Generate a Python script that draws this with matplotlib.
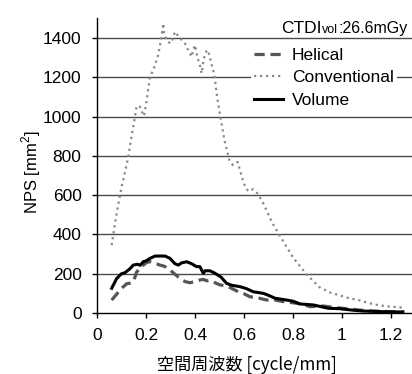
import matplotlib
matplotlib.use("Agg")
import matplotlib.pyplot as plt
from matplotlib.lines import Line2D

plt.rcParams['font.family'] = ['Liberation Sans', 'DejaVu Sans']
plt.rcParams['mathtext.fontset'] = 'custom'
plt.rcParams['mathtext.rm'] = 'Liberation Sans'

# ---- data ----
conv_x = [0.06, 0.067, 0.08, 0.10, 0.107, 0.128, 0.141, 0.155, 0.162, 0.176, 0.185, 0.192,
          0.20, 0.216, 0.23, 0.25, 0.261, 0.271, 0.273, 0.284, 0.298, 0.305, 0.318, 0.339,
          0.359, 0.366, 0.373, 0.38, 0.386, 0.393, 0.40, 0.41, 0.42, 0.427, 0.435, 0.445,
          0.452, 0.458, 0.479, 0.492, 0.506, 0.52, 0.54, 0.554, 0.564, 0.574, 0.595, 0.608,
          0.62, 0.635, 0.656, 0.676, 0.717, 0.758, 0.799, 0.853, 0.907, 0.95, 0.989, 1.03,
          1.07, 1.11, 1.152, 1.20, 1.254]
conv_y = [345, 404, 506, 641, 677, 796, 898, 1000, 1054, 1050, 1020, 1003,
          1060, 1203, 1237, 1314, 1390, 1475, 1424, 1390, 1373, 1380, 1432, 1399,
          1373, 1350, 1339, 1320, 1305, 1340, 1364, 1300, 1262, 1220, 1290, 1330,
          1339, 1314, 1212, 1085, 983, 881, 779, 754, 760, 769, 677, 633,
          620, 630, 608, 565, 455, 370, 285, 200, 132, 105, 90, 75,
          65, 50, 39, 32, 27]

hel_x = [0.06, 0.075, 0.087, 0.10, 0.121, 0.135, 0.148, 0.162, 0.182, 0.20, 0.215, 0.237,
         0.257, 0.275, 0.298, 0.311, 0.33, 0.359, 0.38, 0.40, 0.42, 0.434, 0.448, 0.458,
         0.48, 0.502, 0.53, 0.556, 0.577, 0.60, 0.624, 0.66, 0.692, 0.72, 0.76, 0.80,
         0.84, 0.869, 0.921, 0.97, 1.016, 1.07, 1.125, 1.19, 1.254]
hel_y = [66, 88, 107, 125, 149, 152, 158, 209, 236, 255, 262, 253,
         244, 238, 219, 205, 185, 160, 154, 160, 168, 171, 164, 166,
         155, 143, 138, 121, 108, 98, 83, 76, 66, 68, 58, 52,
         45, 32, 36, 28, 22, 15, 10, 7, 5]

vol_x = [0.06, 0.08, 0.10, 0.114, 0.135, 0.148, 0.165, 0.176, 0.189, 0.20, 0.216, 0.237,
         0.258, 0.278, 0.298, 0.318, 0.332, 0.345, 0.366, 0.386, 0.406, 0.42, 0.434, 0.441,
         0.461, 0.482, 0.506, 0.529, 0.55, 0.584, 0.61, 0.638, 0.679, 0.70, 0.727, 0.774,
         0.80, 0.829, 0.883, 0.944, 0.989, 1.04, 1.085, 1.16, 1.248]
vol_y = [126, 175, 200, 205, 226, 244, 248, 243, 261, 265, 278, 290,
         290, 290, 278, 251, 244, 255, 261, 251, 236, 236, 202, 215,
         215, 202, 183, 151, 141, 134, 124, 108, 100, 90, 75, 66,
         60, 46, 41, 24, 22, 15, 10, 7, 5]

labels = ["Helical", "Conventional", "Volume"]
xticks = [0, 0.2, 0.4, 0.6, 0.8, 1.0, 1.2]
xticklabels = ["0", "0.2", "0.4", "0.6", "0.8", "1", "1.2"]
yticks = [0, 200, 400, 600, 800, 1000, 1200, 1400]

W, H = 412, 374
fig = plt.figure(figsize=(W / 100, H / 100), dpi=100)

x0, x1 = 97, 97 + 1.3 * 245
ytop, ybot = 18.4, 313
ax = fig.add_axes([x0 / W, 1 - ybot / H, (x1 - x0) / W, (ybot - ytop) / H])
ax.set_xlim(0, 1.3)
ax.set_ylim(0, 1500)

for yv in yticks[1:]:
    ax.axhline(yv, color='#4a4a4a', lw=1.0, zorder=1)

hel_style = dict(color='#555555', lw=2.3, linestyle=(0, (3.2, 1.8)))
conv_style = dict(color='#888888', lw=1.6, linestyle=(0, (1, 1.7)))
vol_style = dict(color='black', lw=2.2)

ax.plot(hel_x, hel_y, zorder=3, **hel_style)
ax.plot(conv_x, conv_y, zorder=3, **conv_style)
ax.plot(vol_x, vol_y, zorder=4, **vol_style)

for s in ['top', 'right']:
    ax.spines[s].set_visible(False)
ax.spines['left'].set_linewidth(1.0)
ax.spines['bottom'].set_linewidth(1.0)
ax.set_xticks(xticks)
ax.set_xticklabels(xticklabels)
ax.set_yticks(yticks)
ax.tick_params(labelsize=12.5, length=3.6, width=1, direction='out', pad=7.5)

handles = [Line2D([], [], **hel_style), Line2D([], [], **conv_style), Line2D([], [], **vol_style)]
leg = fig.legend(handles, labels, loc='upper left',
                 bbox_to_anchor=(251 / W, 1 - 44 / H), bbox_transform=fig.transFigure,
                 frameon=True, fontsize=12.5, handlelength=1.65, handletextpad=0.5,
                 labelspacing=0.43, borderpad=0.2, borderaxespad=0)
leg.get_frame().set_facecolor('white')
leg.get_frame().set_edgecolor('none')
leg.get_frame().set_alpha(1)

# CTDIvol label built from pieces (vol smaller, same baseline)
renderer = fig.canvas.get_renderer()
xpos = 281
base = 1 - 33.3 / H
for txt, fs in [("CTDI", 12.5), ("vol", 9.0), (":26.6mGy", 11.5)]:
    t = fig.text(xpos / W, base, txt, fontsize=fs, ha='left', va='baseline')
    bb = t.get_window_extent(renderer)
    xpos += bb.width + 0.5

fig.text(247 / W, 1 - 365 / H, "空間周波数 [cycle/mm]", fontsize=12.3,
         family=['Noto Sans CJK JP', 'DejaVu Sans'], ha='center', va='center')
fig.text(31 / W, 1 - 172 / H, "NPS [mm$^{\\mathregular{2}}$]", fontsize=12, rotation=90,
         ha='center', va='center')

fig.savefig("out.png", dpi=100)
